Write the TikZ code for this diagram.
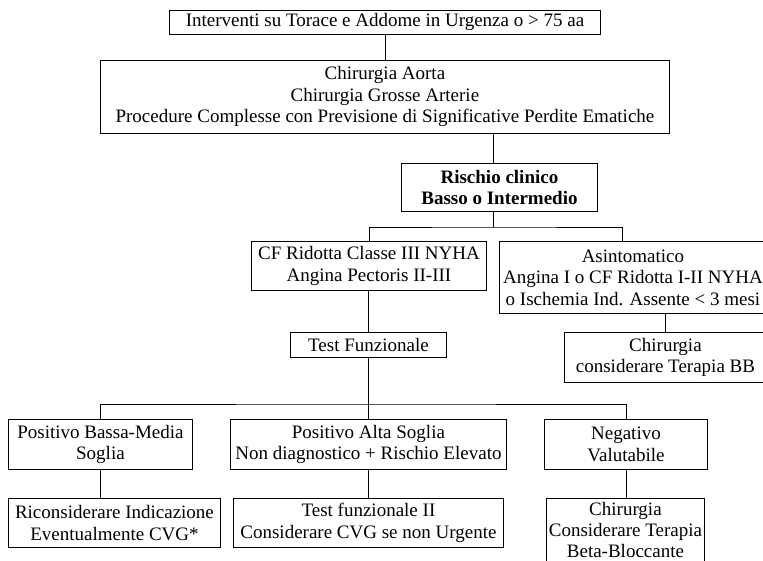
\documentclass[tikz,border=0pt]{standalone}
\usepackage{fontspec}
\setmainfont{Liberation Serif}
\begin{document}
\begin{tikzpicture}[x=1pt,y=-1pt,
  box/.style={draw, line width=0.9pt, inner sep=0pt, align=center, anchor=north west,
    font=\fontsize{19}{21.5}\selectfont},
  conn/.style={line width=0.9pt}]
\useasboundingbox (0,0) rectangle (763,560);
\clip (0,0) rectangle (763,560);
% boxes
\node[box, minimum width=431, minimum height=24] (top) at (169,10)
  {Interventi su Torace e Addome in Urgenza o > 75 aa};
\node[box, minimum width=569, minimum height=73] (big) at (100,60)
  {Chirurgia Aorta\\Chirurgia Grosse Arterie\\Procedure Complesse con Previsione di Significative Perdite Ematiche};
\node[box, minimum width=196, minimum height=48, font=\fontsize{19}{21.5}\selectfont\bfseries] (rischio) at (401,163)
  {Rischio clinico\\Basso o Intermedio};
\node[box, minimum width=235, minimum height=49] (cf) at (251,241)
  {CF Ridotta Classe III NYHA\\Angina Pectoris II-III};
\node[box, minimum width=267, minimum height=72] (asin) at (499,241)
  {Asintomatico\\Angina I o CF Ridotta I-II NYHA\\o Ischemia Ind. Assente < 3 mesi};
\node[box, minimum width=156, minimum height=25] (test) at (290,332)
  {Test Funzionale};
\node[box, minimum width=202, minimum height=50] (chbb) at (564,332)
  {Chirurgia\\considerare Terapia BB};
\node[box, minimum width=184, minimum height=50] (pbm) at (8,419)
  {Positivo Bassa-Media\\Soglia};
\node[box, minimum width=276, minimum height=50] (pa) at (230,419)
  {Positivo Alta Soglia\\Non diagnostico + Rischio Elevato};
\node[box, minimum width=163, minimum height=50] (neg) at (544,419)
  {Negativo\\Valutabile};
\node[box, minimum width=212, minimum height=49] (ric) at (8,498)
  {Riconsiderare Indicazione\\Eventualmente CVG*};
\node[box, minimum width=270, minimum height=49] (tf2) at (233,498)
  {Test funzionale II\\Considerare CVG se non Urgente};
\node[box, minimum width=158, minimum height=64, font=\fontsize{19}{21}\selectfont] (chir) at (546,498)
  {Chirurgia\\Considerare Terapia\\Beta-Bloccante};
% junction coordinates
\coordinate (c1) at (493,0);
\coordinate (c2) at (622,0);
\coordinate (b1) at (493,227);
\coordinate (b2) at (368,404);
% connectors
\draw[conn] (top.south) -- (top.south |- big.north);
\draw[conn] (big.south -| c1) -- (rischio.north -| c1);
\draw[conn] (rischio.south -| b1) -- (b1);
\draw[conn] (cf.north) |- (b1) -| (asin.north -| c2);
\draw[conn] (asin.south -| chbb.north) -- (chbb.north);
\draw[conn] (test.north |- cf.south) -- (test.north);
\draw[conn] (test.south) -- (pa.north);
\draw[conn] (pbm.north) |- (b2) -| (neg.north);
\draw[conn] (pbm.south) -- (pbm.south |- ric.north);
\draw[conn] (pa.south) -- (tf2.north);
\draw[conn] (neg.south) -- (neg.south |- chir.north);
\end{tikzpicture}
\end{document}
